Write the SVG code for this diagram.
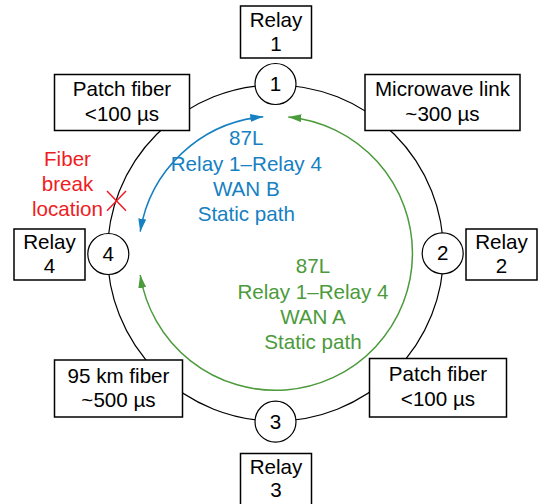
<svg xmlns="http://www.w3.org/2000/svg" width="540" height="504" viewBox="0 0 540 504">
<style>
text{font-family:"Liberation Sans",Arial,sans-serif;font-size:20.6px;text-anchor:middle}
.box{fill:#fff;stroke:#000;stroke-width:1.5}
.node{fill:#fff;stroke:#000;stroke-width:1.2}
.ring{fill:none;stroke:#000;stroke-width:1.2}
.blue{fill:#1580c2}
.green{fill:#4b9a3b}
.red{fill:#ee1d23}
</style>
<defs>
<marker id="ab" viewBox="0 0 13 8" refX="13" refY="4" markerWidth="13" markerHeight="8" markerUnits="userSpaceOnUse" orient="auto-start-reverse"><path d="M0,0L13,4L0,8z" fill="#1580c2"/></marker>
<marker id="ag" viewBox="0 0 13 8" refX="13" refY="4" markerWidth="13" markerHeight="8" markerUnits="userSpaceOnUse" orient="auto-start-reverse"><path d="M0,0L13,4L0,8z" fill="#4b9a3b"/></marker>
</defs>
<g id="connectors">
<circle class="ring" cx="275.5" cy="253" r="168"/>
<path d="M263.3,116.8A137,137 0 0 0 140.2,231.7" fill="none" stroke="#1580c2" stroke-width="1.5" marker-start="url(#ab)" marker-end="url(#ab)"/>
<path d="M140.2,275A137,137 0 1 0 288.3,116.9" fill="none" stroke="#4b9a3b" stroke-width="1.5" marker-start="url(#ag)" marker-end="url(#ag)"/>
</g>
<g id="relay1"><rect class="box" x="240.5" y="6" width="71" height="52"/><text x="276" y="27">Relay</text><text x="276" y="51">1</text></g>
<g id="relay2"><rect class="box" x="466" y="229" width="71" height="51"/><text x="501.5" y="248.5">Relay</text><text x="501.5" y="272.5">2</text></g>
<g id="relay3"><rect class="box" x="240.5" y="453.5" width="71" height="55"/><text x="276" y="473.5">Relay</text><text x="276" y="497">3</text></g>
<g id="relay4"><rect class="box" x="14" y="229" width="71" height="51"/><text x="49.5" y="248.5">Relay</text><text x="49.5" y="272.5">4</text></g>
<g id="patch-fiber-1"><rect class="box" x="54.5" y="74.5" width="135" height="56"/><text x="122" y="95.5">Patch fiber</text><text x="122" y="120.5">&lt;100 µs</text></g>
<g id="microwave"><rect class="box" x="365" y="74.5" width="155" height="56"/><text x="442.5" y="96">Microwave link</text><text x="442.5" y="121">~300 µs</text></g>
<g id="patch-fiber-2"><rect class="box" x="369.5" y="358.5" width="137" height="58.5"/><text x="438" y="381">Patch fiber</text><text x="438" y="406">&lt;100 µs</text></g>
<g id="fiber95"><rect class="box" x="54.5" y="360" width="128" height="57"/><text x="118.5" y="382.5">95 km fiber</text><text x="118.5" y="407">~500 µs</text></g>
<g id="n1"><circle class="node" cx="275.5" cy="84" r="20.5"/><text x="275.5" y="91">1</text></g>
<g id="n2"><circle class="node" cx="442.7" cy="253.3" r="20.5"/><text x="442.7" y="260.3">2</text></g>
<g id="n3"><circle class="node" cx="275.5" cy="421.7" r="20.5"/><text x="275.5" y="428.7">3</text></g>
<g id="n4"><circle class="node" cx="108.3" cy="254" r="20.5"/><text x="108.3" y="261">4</text></g>
<g id="wan-b-label" class="blue"><text x="246.3" y="145">87L</text><text x="246.3" y="170.5">Relay 1–Relay 4</text><text x="246.3" y="196">WAN B</text><text x="246.3" y="220.7">Static path</text></g>
<g id="wan-a-label" class="green"><text x="313" y="273.3">87L</text><text x="313" y="298.5">Relay 1–Relay 4</text><text x="313" y="324">WAN A</text><text x="313" y="348.7">Static path</text></g>
<g id="fiber-break" class="red"><text x="67.5" y="166">Fiber</text><text x="67.5" y="190.7">break</text><text x="67.5" y="216">location</text>
<path d="M107,191L126,210.7M107,210.7L126,191" stroke="#ee1d23" stroke-width="1.5" fill="none"/></g>
</svg>
